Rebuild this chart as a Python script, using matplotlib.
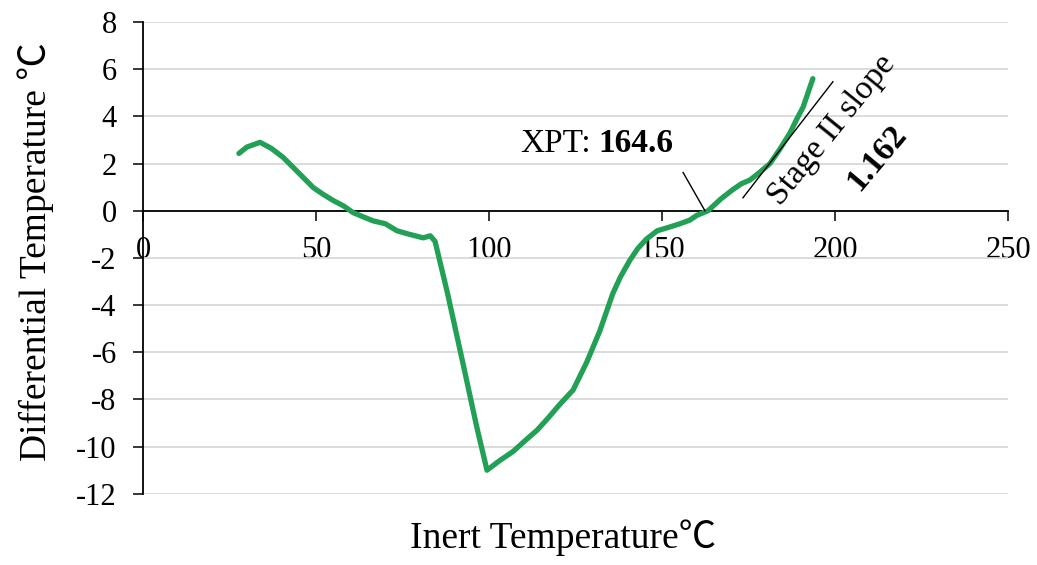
import numpy as np
import matplotlib.pyplot as plt

plt.rcParams['font.family'] = ['Liberation Serif', 'Noto Sans CJK SC']
plt.rcParams['axes.unicode_minus'] = False

# curve
inert_t = [27.7, 30, 33.8, 37, 40.5, 45, 49.2, 52, 55, 58, 60.7, 63.5, 66.5, 70, 73.4,
           77, 81, 83, 84.4, 88, 92.5, 96.5, 99.4, 103, 107, 110, 113.9, 117, 120.5,
           124.3, 128.3, 132, 135.8, 138, 140.7, 143, 145.5, 148.6, 152, 155.2, 158,
           160, 163.3, 167, 170.5, 173, 175.4, 178, 181.2, 184, 187, 189, 190.8, 193.6]
diff_t = [2.43, 2.7, 2.9, 2.65, 2.26, 1.6, 0.98, 0.7, 0.43, 0.2, -0.08, -0.25, -0.43,
          -0.55, -0.85, -1.0, -1.15, -1.06, -1.3, -3.5, -6.5, -9.2, -11.0, -10.6, -10.2,
          -9.8, -9.3, -8.8, -8.2, -7.6, -6.4, -5.1, -3.5, -2.8, -2.1, -1.6, -1.2, -0.85,
          -0.7, -0.55, -0.4, -0.2, 0.0, 0.5, 0.9, 1.15, 1.3, 1.6, 2.0, 2.6, 3.3, 3.9,
          4.4, 5.6]

xpt_line_x = [156.1, 162.4]
xpt_line_y = [1.62, 0.0]
slope_line_x = [173.4, 199.4]
slope_line_y = [0.55, 5.47]

xticks = [0, 50, 100, 150, 200, 250]
yticks = [-12, -10, -8, -6, -4, -2, 0, 2, 4, 6, 8]

fig = plt.figure(figsize=(10.37, 5.65), dpi=100)
ax = fig.add_axes([0.138, 0.126, 0.834, 0.835])

ax.plot(inert_t, diff_t, color='#22a055', lw=3.8, solid_capstyle='round',
        solid_joinstyle='round', zorder=3)
ax.plot(xpt_line_x, xpt_line_y, color='black', lw=1.0, zorder=4)
ax.plot(slope_line_x, slope_line_y, color='black', lw=1.0, zorder=4)

ax.set_xlim(0, 250)
ax.set_ylim(-12, 8)
ax.set_xticks(xticks)
ax.set_yticks(yticks)
ax.grid(axis='y', color='#d9d9d9', lw=1.3)
ax.set_axisbelow(True)

ax.spines['top'].set_visible(False)
ax.spines['right'].set_visible(False)
ax.spines['bottom'].set_position(('data', 0))
ax.spines['bottom'].set_zorder(2)
ax.spines['left'].set_linewidth(1.3)
ax.spines['bottom'].set_linewidth(1.3)
ax.tick_params(axis='x', direction='out', length=7, width=1.1, pad=11, labelsize=22)
ax.tick_params(axis='y', direction='out', length=7, width=1.1, pad=12, labelsize=22)

ax.text(129.5, 2.47, 'XPT:', fontsize=24, ha='right', va='baseline')
ax.text(131.5, 2.47, '164.6', fontsize=24, fontweight='bold', ha='left', va='baseline')
ax.text(200.9, 3.19, 'Stage II slope', fontsize=24, rotation=51,
        rotation_mode='anchor', ha='center', va='baseline')
ax.text(212.1, 2.25, '1.162', fontsize=24, fontweight='bold', rotation=50,
        rotation_mode='anchor', ha='center', va='center')

fig.text(0.543, 0.03, 'Inert Temperature℃', fontsize=27, ha='center', va='baseline')
fig.text(0.034, 0.555, 'Differential Temperature ℃', fontsize=27, rotation=90,
         ha='center', va='center')

fig.savefig('out.png', dpi=100)
